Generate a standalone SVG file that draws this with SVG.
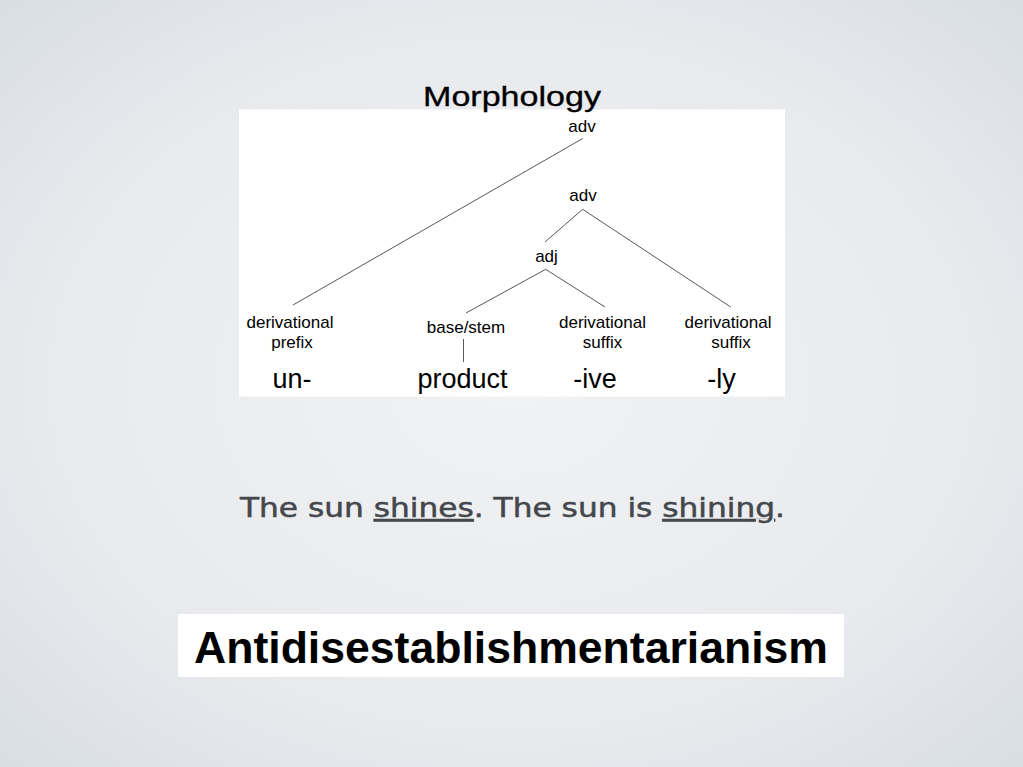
<svg xmlns="http://www.w3.org/2000/svg" width="1023" height="767" viewBox="0 0 1023 767">
<defs>
<radialGradient id="bg" cx="0.5" cy="0.5" r="0.75">
<stop offset="0" stop-color="#f1f2f4"/>
<stop offset="0.6" stop-color="#e8eaed"/>
<stop offset="1" stop-color="#d6dce3"/>
</radialGradient>
<style>
.lbl{font-family:"Liberation Sans",Arial,sans-serif;font-size:17px;fill:#000;text-anchor:middle}
.big{font-family:"Liberation Sans",Arial,sans-serif;font-size:27px;fill:#000;text-anchor:middle}
.edge{stroke:#444;stroke-width:0.9;fill:none}
</style>
</defs>
<rect width="1023" height="767" fill="url(#bg)"/>
<rect x="239" y="109.5" width="546" height="287" fill="#fff"/>
<text x="512" y="106" font-family="Liberation Sans, Arial, sans-serif" font-size="27" fill="#000" stroke="#000" stroke-width="0.3" text-anchor="middle" textLength="178" lengthAdjust="spacingAndGlyphs">Morphology</text>
<g id="connectors">
<line class="edge" x1="582.7" y1="138.5" x2="293" y2="305"/>
<line class="edge" x1="582.7" y1="209.3" x2="545" y2="242"/>
<line class="edge" x1="582.7" y1="209.3" x2="730.7" y2="307"/>
<line class="edge" x1="545.7" y1="269.3" x2="466" y2="313"/>
<line class="edge" x1="545.7" y1="269.3" x2="605" y2="307"/>
<line class="edge" x1="463.5" y1="339" x2="463.5" y2="362"/>
</g>
<g id="n-adv-top"><text class="lbl" x="582" y="131.5">adv</text></g>
<g id="n-adv-mid"><text class="lbl" x="583" y="201">adv</text></g>
<g id="n-adj"><text class="lbl" x="546.5" y="261.5">adj</text></g>
<g id="n-prefix">
<text class="lbl" x="290" y="328">derivational</text>
<text class="lbl" x="292" y="348">prefix</text>
<text class="big" x="292" y="388">un-</text>
</g>
<g id="n-base">
<text class="lbl" x="466" y="333">base/stem</text>
<text class="big" x="462.5" y="387.5">product</text>
</g>
<g id="n-suffix1">
<text class="lbl" x="602.5" y="328">derivational</text>
<text class="lbl" x="602.5" y="348">suffix</text>
<text class="big" x="595" y="388">-ive</text>
</g>
<g id="n-suffix2">
<text class="lbl" x="728" y="328">derivational</text>
<text class="lbl" x="731" y="348">suffix</text>
<text class="big" x="721.5" y="388">-ly</text>
</g>
<g id="sentence">
<text x="240" y="517" font-family="DejaVu Sans, sans-serif" font-size="26" fill="#44474c" stroke="#44474c" stroke-width="0.5" textLength="545" lengthAdjust="spacingAndGlyphs">The sun <tspan text-decoration="underline">shines</tspan>. The sun is <tspan text-decoration="underline">shining</tspan>.</text>
</g>
<g id="word">
<rect x="178" y="614" width="666" height="63" fill="#fff"/>
<text x="194" y="663" font-family="Liberation Sans, Arial, sans-serif" font-weight="bold" font-size="44" fill="#000" textLength="634" lengthAdjust="spacingAndGlyphs">Antidisestablishmentarianism</text>
</g>
</svg>
